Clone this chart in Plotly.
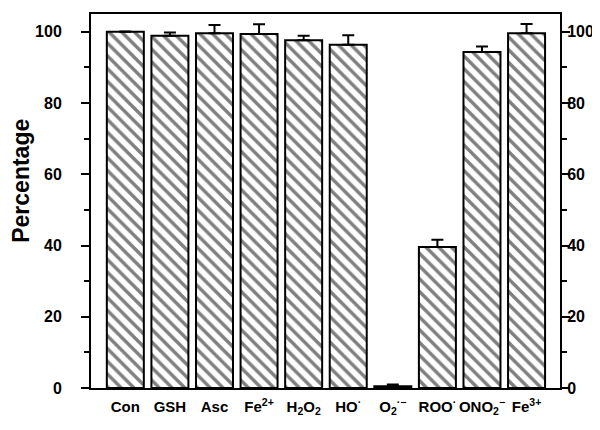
import plotly.graph_objects as go

categories = ["Con", "GSH", "Asc", "Fe<sup>2+</sup>", "H<sub>2</sub>O<sub>2</sub>", "HO<sup>·</sup>",
              "O<sub>2</sub><sup>·−</sup>", "ROO<sup>·</sup>", "ONO<sub>2</sub><sup>−</sup>", "Fe<sup>3+</sup>"]
values = [100.0, 98.9, 99.6, 99.4, 97.6, 96.4, 0.5, 39.6, 94.3, 99.6]
errors = [0.1, 0.9, 2.3, 2.7, 1.3, 2.6, 0.5, 2.0, 1.6, 2.6]
y_ticks = [0, 20, 40, 60, 80, 100]

FONT = "Liberation Sans, Arial, sans-serif"
x_idx = list(range(len(categories)))

fig = go.Figure()
fig.add_trace(go.Bar(
    x=x_idx, y=values, width=0.83,
    marker=dict(color="white", line=dict(color="black", width=2),
                pattern=dict(shape="\\", fgcolor="black", bgcolor="white", size=9, solidity=0.38)),
    error_y=dict(type="data", array=errors, arrayminus=[0] * len(errors), symmetric=False,
                 color="black", thickness=2, width=6),
    showlegend=False,
))
fig.add_trace(go.Scatter(x=[0], y=[0], yaxis="y2", mode="markers",
                         marker=dict(opacity=0), showlegend=False, hoverinfo="skip"))

axis_font = dict(family=FONT, size=16, color="black", weight="bold")
fig.update_layout(
    width=600, height=430,
    margin=dict(l=83, r=48, t=4, b=50),
    plot_bgcolor="white", paper_bgcolor="white",
    xaxis=dict(range=[-0.77, 9.75], tickmode="array", tickvals=x_idx, ticktext=categories,
               showline=True, linecolor="black", linewidth=2, mirror=True, ticks="",
               ticklabelstandoff=4, showgrid=False, zeroline=False,
               tickfont=dict(family=FONT, size=15, color="black", weight="bold")),
    yaxis=dict(range=[0, 105], tickvals=y_ticks, ticks="outside", ticklen=8, tickwidth=2,
               tickcolor="black", showline=True, linecolor="black", linewidth=2,
               showgrid=False, zeroline=False, tickfont=axis_font, ticklabelstandoff=16,
               minor=dict(tickvals=[10, 30, 50, 70, 90], ticks="outside", ticklen=5,
                          tickwidth=2, tickcolor="black")),
    yaxis2=dict(range=[0, 105], tickvals=y_ticks, ticks="outside", ticklen=8, tickwidth=2,
                tickcolor="black", showline=True, linecolor="black", linewidth=2,
                overlaying="y", side="right", showgrid=False, zeroline=False,
                tickfont=axis_font, ticklabelstandoff=-6,
                minor=dict(tickvals=[10, 30, 50, 70, 90], ticks="outside", ticklen=5,
                           tickwidth=2, tickcolor="black")),
    annotations=[dict(text="Percentage", xref="paper", yref="paper", x=-0.148, y=0.553,
                      textangle=-90, showarrow=False, xanchor="center", yanchor="middle",
                      font=dict(family=FONT, size=23, color="black", weight="bold"))],
)

fig.write_html("out.html")
